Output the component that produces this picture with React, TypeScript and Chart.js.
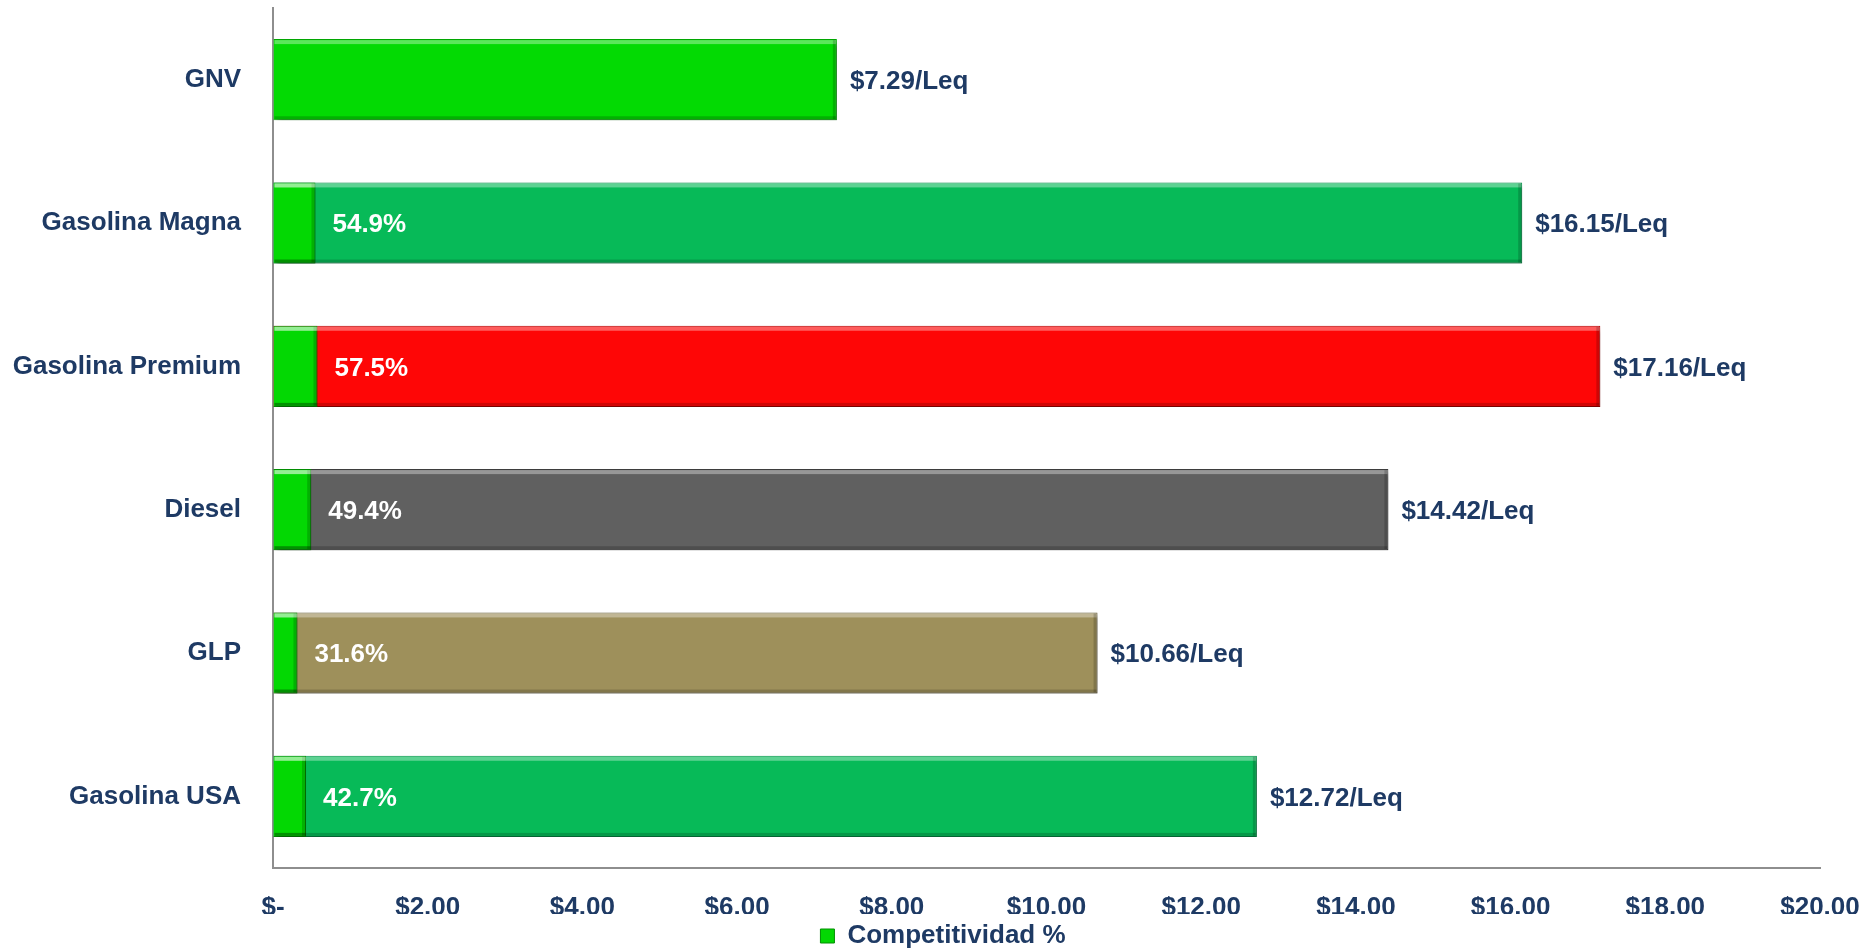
import React, { useEffect, useRef } from "react";
import { Chart, registerables } from "chart.js";

Chart.register(...registerables);

const categories = ["GNV", "Gasolina Magna", "Gasolina Premium", "Diesel", "GLP", "Gasolina USA"];
const prices = [7.29, 16.15, 17.16, 14.42, 10.66, 12.72];
const competitividad = [null, 0.549, 0.575, 0.494, 0.316, 0.427];
const priceLabels = ["$7.29/Leq", "$16.15/Leq", "$17.16/Leq", "$14.42/Leq", "$10.66/Leq", "$12.72/Leq"];
const pctLabels = ["", "54.9%", "57.5%", "49.4%", "31.6%", "42.7%"];
const xMin = 0;
const xMax = 20;
const xStep = 2;
const legendLabel = "Competitividad %";

const priceColors = ["#03DA03", "#07BA58", "#FE0606", "#606060", "#9E905B", "#07BA58"];
const priceBorders = ["#02A802", "#05914A", "#B00000", "#3E3E3E", "#6E6440", "#05914A"];
const compColor = "#03D803";
const compBorder = "#028F02";
const textColor = "#1E3A64";
const FONT = "'Liberation Sans', Arial, sans-serif";

const labelPlugin = {
  id: "labelsAndShadow",
  afterLayout(chart: any) {
    const lg = chart.legend;
    if (lg) {
      const dx = 33;
      const dy = 9;
      lg.left += dx;
      lg.right += dx;
      lg.top += dy;
      lg.bottom += dy;
    }
  },
  beforeDatasetsDraw(chart: any) {
    const ctx = chart.ctx;
    ctx.save();
    ctx.shadowColor = "rgba(0,0,0,0.35)";
    ctx.shadowOffsetX = 3;
    ctx.shadowOffsetY = 4;
    ctx.shadowBlur = 5;
  },
  afterDatasetsDraw(chart: any) {
    const ctx = chart.ctx;
    ctx.restore();
    chart.data.datasets.forEach((ds: any, di: number) => {
      const meta = chart.getDatasetMeta(di);
      meta.data.forEach((bar: any, i: number) => {
        const v = ds.data[i];
        if (v === null || v === undefined) return;
        const { x, y, base, height } = bar.getProps(["x", "y", "base", "height"], true);
        const top = y - height / 2;
        const left = Math.min(base, x);
        const w = Math.abs(x - base);
        ctx.save();
        ctx.fillStyle = "rgba(255,255,255,0.35)";
        ctx.fillRect(left + 1, top + 1, w - 2, 4);
        ctx.fillStyle = "rgba(0,0,0,0.18)";
        ctx.fillRect(left + 1, top + height - 4, w - 2, 3);
        ctx.fillRect(left + w - 4, top + 1, 3, height - 2);
        ctx.restore();
      });
    });
    const priceMeta = chart.getDatasetMeta(1);
    const compMeta = chart.getDatasetMeta(0);
    ctx.save();
    ctx.font = `bold 26px ${FONT}`;
    ctx.textBaseline = "middle";
    ctx.textAlign = "left";
    priceMeta.data.forEach((bar: any, i: number) => {
      const { x, y } = bar.getProps(["x", "y"], true);
      ctx.fillStyle = textColor;
      ctx.fillText(priceLabels[i], x + 13, y + 2);
      const cb = compMeta.data[i];
      if (pctLabels[i] && cb) {
        const cx = competitividad[i] == null ? x : cb.getProps(["x"], true).x;
        ctx.fillStyle = "#FFFFFF";
        ctx.fillText(pctLabels[i], cx + 17, y + 2);
      }
    });
    ctx.restore();
  },
};

export default function App() {
  const ref = useRef<HTMLCanvasElement | null>(null);
  useEffect(() => {
    if (!ref.current) return;
    const chart = new Chart(ref.current, {
      type: "bar",
      data: {
        labels: categories,
        datasets: [
          {
            label: legendLabel,
            data: competitividad as any,
            backgroundColor: compColor,
            borderColor: compBorder,
            borderWidth: 1,
            grouped: false,
            barPercentage: 0.566,
            categoryPercentage: 1,
          },
          {
            label: "Precio",
            data: prices,
            backgroundColor: priceColors,
            borderColor: priceBorders,
            borderWidth: 1,
            grouped: false,
            barPercentage: 0.566,
            categoryPercentage: 1,
          },
        ],
      },
      options: {
        indexAxis: "y",
        responsive: false,
        animation: false,
        layout: { autoPadding: false, padding: { left: 0, right: 52, top: 8, bottom: 0 } },
        scales: {
          x: {
            min: xMin,
            max: xMax,
            afterFit: (scale: any) => {
              scale.height = 46;
              scale.paddingLeft = 0;
              scale.paddingRight = 0;
            },
            ticks: {
              stepSize: xStep,
              color: textColor,
              font: { family: FONT, size: 26, weight: "bold" },
              padding: 24,
              maxRotation: 0,
              callback: (v: any) => (Number(v) === 0 ? "$-" : "$" + Number(v).toFixed(2)),
            },
            grid: { color: "rgba(0,0,0,0)", drawTicks: false },
            border: { color: "#8E8E8E", width: 2 },
          },
          y: {
            afterFit: (scale: any) => {
              scale.width = 273;
              scale.paddingTop = 0;
              scale.paddingBottom = 0;
            },
            ticks: {
              color: textColor,
              font: { family: FONT, size: 26, weight: "bold" },
              padding: 32,
            },
            grid: { color: "rgba(0,0,0,0)", drawTicks: false },
            border: { color: "#8E8E8E", width: 2 },
          },
        },
        plugins: {
          tooltip: { enabled: false },
          legend: {
            position: "bottom",
            labels: {
              filter: (item: any) => item.datasetIndex === 0,
              color: textColor,
              font: { family: FONT, size: 26, weight: "bold" },
              boxWidth: 14,
              boxHeight: 14,
              padding: 0,
            },
          },
        },
      },
      plugins: [labelPlugin],
    });
    return () => chart.destroy();
  }, []);
  return (
    <div style={{ position: "absolute", left: 0, top: 0, width: 1872, height: 950, background: "#fff" }}>
      <canvas ref={ref} width={1872} height={950} style={{ display: "block" }} />
    </div>
  );
}
